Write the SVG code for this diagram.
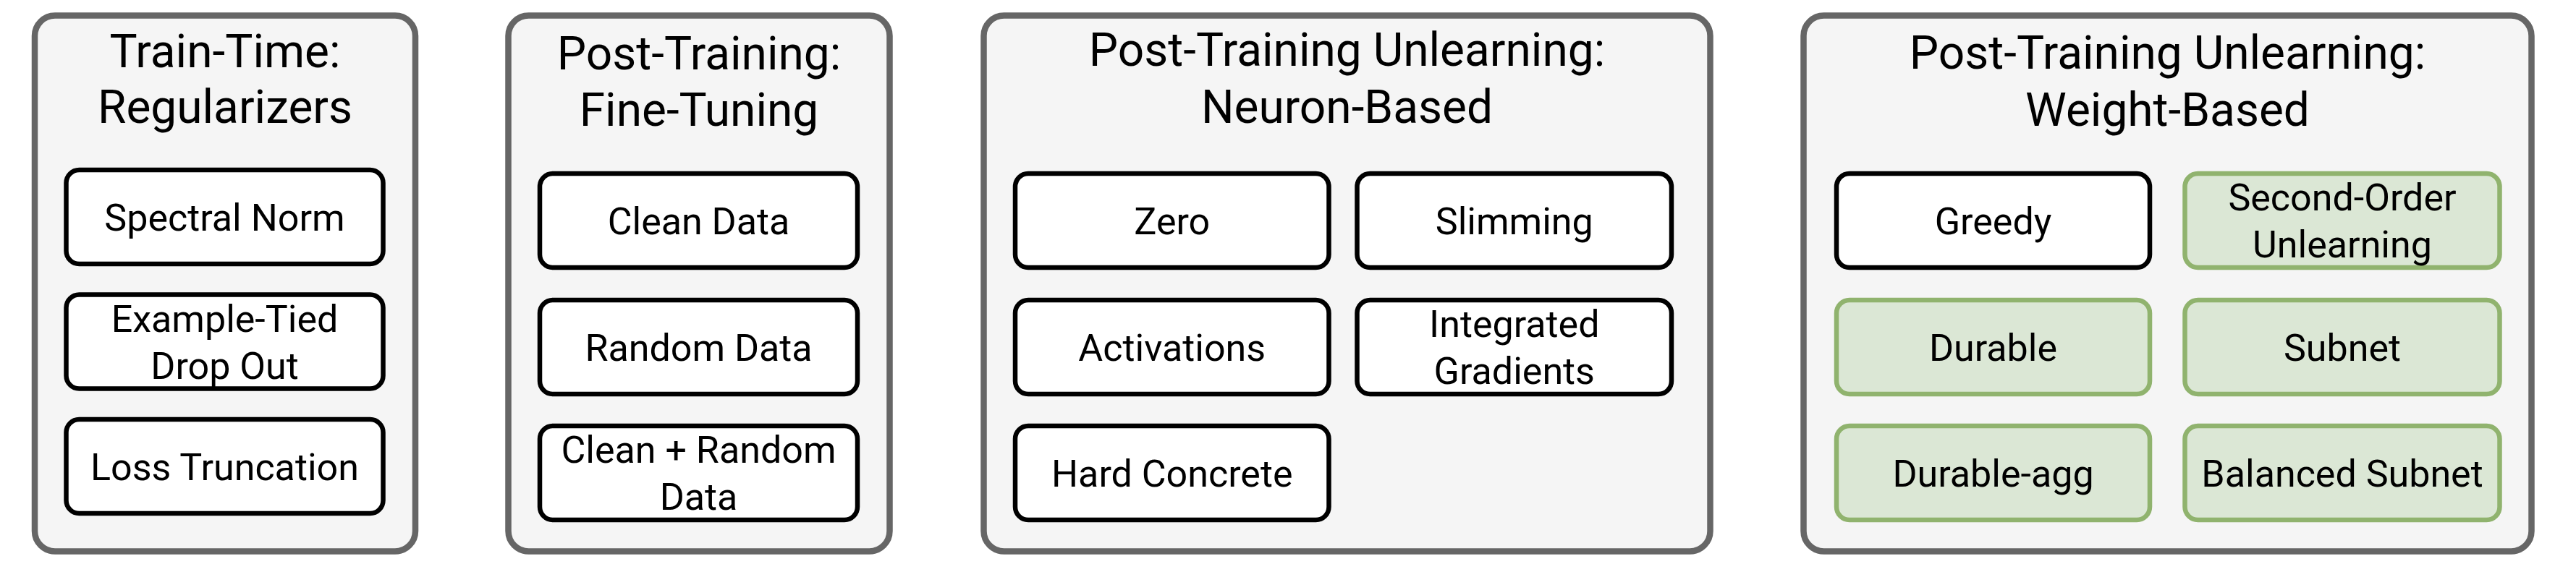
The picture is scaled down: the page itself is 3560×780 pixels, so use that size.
<svg xmlns="http://www.w3.org/2000/svg" width="3560" height="780" viewBox="0 0 3560 780">
<style>
.panel{fill:#f5f5f5;stroke:#666666;stroke-width:8.5}
.node{fill:#ffffff;stroke:#000000;stroke-width:6.5}
.green{fill:#dbe7d5;stroke:#90b36e;stroke-width:6.5}
.title{font-family:Roboto,"Liberation Sans",sans-serif;font-size:64px;fill:#000;text-anchor:middle}
.lbl{font-family:Roboto,"Liberation Sans",sans-serif;font-size:52px;fill:#000;text-anchor:middle}
</style>
<rect width="3560" height="780" fill="#ffffff"/>
<g id="panel-train-time">
<rect class="panel" x="48" y="21.5" width="526" height="741" rx="28"/>
<text class="title" x="311" y="92.7">Train-Time:</text>
<text class="title" x="311" y="170">Regularizers</text>
</g>
<g id="node-spectral-norm"><rect class="node" x="91.5" y="235" width="438" height="130" rx="18"/><text class="lbl" x="310.5" y="318.5">Spectral Norm</text></g>
<g id="node-example-tied"><rect class="node" x="91.5" y="407.5" width="438" height="130" rx="18"/><text class="lbl" x="310.5" y="458.5">Example-Tied</text><text class="lbl" x="310.5" y="523.5">Drop Out</text></g>
<g id="node-loss-truncation"><rect class="node" x="91.5" y="580" width="438" height="130" rx="18"/><text class="lbl" x="310.5" y="663.5">Loss Truncation</text></g>

<g id="panel-fine-tuning">
<rect class="panel" x="702.5" y="21.5" width="527" height="741" rx="28"/>
<text class="title" x="966" y="96">Post-Training:</text>
<text class="title" x="966" y="174">Fine-Tuning</text>
</g>
<g id="node-clean-data"><rect class="node" x="746" y="240" width="439" height="130" rx="18"/><text class="lbl" x="965.5" y="323.5">Clean Data</text></g>
<g id="node-random-data"><rect class="node" x="746" y="415" width="439" height="130" rx="18"/><text class="lbl" x="965.5" y="498.5">Random Data</text></g>
<g id="node-clean-random"><rect class="node" x="746" y="589" width="439" height="130" rx="18"/><text class="lbl" x="965.5" y="640">Clean + Random</text><text class="lbl" x="965.5" y="705">Data</text></g>

<g id="panel-neuron-based">
<rect class="panel" x="1359.5" y="21.5" width="1004" height="741" rx="28"/>
<text class="title" x="1861.5" y="91">Post-Training Unlearning:</text>
<text class="title" x="1861.5" y="170">Neuron-Based</text>
</g>
<g id="node-zero"><rect class="node" x="1403" y="240" width="433.5" height="130" rx="18"/><text class="lbl" x="1619.75" y="323.5">Zero</text></g>
<g id="node-slimming"><rect class="node" x="1875.5" y="240" width="434.5" height="130" rx="18"/><text class="lbl" x="2092.75" y="323.5">Slimming</text></g>
<g id="node-activations"><rect class="node" x="1403" y="415" width="433.5" height="130" rx="18"/><text class="lbl" x="1619.75" y="498.5">Activations</text></g>
<g id="node-integrated-gradients"><rect class="node" x="1875.5" y="415" width="434.5" height="130" rx="18"/><text class="lbl" x="2092.75" y="466">Integrated</text><text class="lbl" x="2092.75" y="531">Gradients</text></g>
<g id="node-hard-concrete"><rect class="node" x="1403" y="589" width="433.5" height="130" rx="18"/><text class="lbl" x="1619.75" y="672.5">Hard Concrete</text></g>

<g id="panel-weight-based">
<rect class="panel" x="2492.5" y="21.5" width="1006" height="741" rx="28"/>
<text class="title" x="2995.5" y="95">Post-Training Unlearning:</text>
<text class="title" x="2995.5" y="173.5">Weight-Based</text>
</g>
<g id="node-greedy"><rect class="node" x="2538" y="240" width="433" height="130" rx="18"/><text class="lbl" x="2754.5" y="323.5">Greedy</text></g>
<g id="node-second-order"><rect class="green" x="3019.5" y="240" width="435" height="130" rx="18"/><text class="lbl" x="3237" y="291">Second-Order</text><text class="lbl" x="3237" y="356">Unlearning</text></g>
<g id="node-durable"><rect class="green" x="2538" y="415" width="433" height="130" rx="18"/><text class="lbl" x="2754.5" y="498.5">Durable</text></g>
<g id="node-subnet"><rect class="green" x="3019.5" y="415" width="435" height="130" rx="18"/><text class="lbl" x="3237" y="498.5">Subnet</text></g>
<g id="node-durable-agg"><rect class="green" x="2538" y="589" width="433" height="130" rx="18"/><text class="lbl" x="2754.5" y="672.5">Durable-agg</text></g>
<g id="node-balanced-subnet"><rect class="green" x="3019.5" y="589" width="435" height="130" rx="18"/><text class="lbl" x="3237" y="672.5">Balanced Subnet</text></g>

<g id="connectors"></g>
</svg>
